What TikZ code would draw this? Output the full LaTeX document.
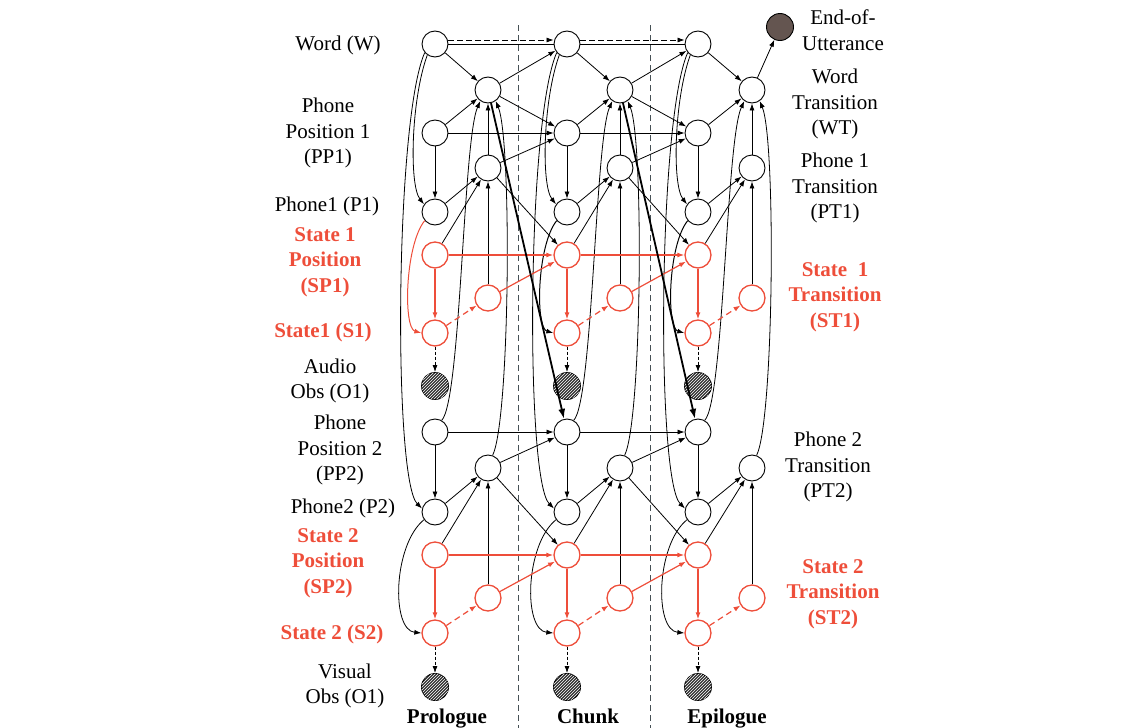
\documentclass[tikz,border=0pt]{standalone}
\usepackage{fontspec}
\setmainfont{Liberation Serif}
\usetikzlibrary{arrows.meta,patterns}
\definecolor{myred}{RGB}{238,78,58}
\definecolor{eoucol}{RGB}{100,85,80}
\definecolor{sepcol}{RGB}{70,80,85}
\begin{document}
\begin{tikzpicture}[x=1pt,y=-1pt,
 nd/.style={circle,draw=black,line width=0.9pt,minimum size=26pt,inner sep=0pt,fill=white},
 rnd/.style={nd,draw=myred,line width=1.3pt},
 obs/.style={circle,draw=black,line width=0.9pt,minimum size=27pt,inner sep=0pt,fill=black!80,postaction={pattern=north east lines,pattern color=white}},
 arr/.style={-{Latex[length=7pt,width=5pt]},line width=0.8pt},
 thk/.style={-{Latex[length=10pt,width=7pt]},line width=1.8pt},
 rarr/.style={arr,draw=myred,line width=1.2pt},
 rthk/.style={arr,draw=myred,line width=2pt},
 rdsh/.style={rarr,dash pattern=on 6pt off 4pt},
 dsh/.style={arr,dash pattern=on 3pt off 2pt},
 lbl/.style={font=\fontsize{21}{25.5}\selectfont,align=center,inner sep=0pt},
 rlbl/.style={font=\fontsize{21}{25.5}\selectfont\bfseries,align=center,inner sep=0pt,text=myred},
 blbl/.style={font=\fontsize{21}{25.5}\selectfont\bfseries,align=center,inner sep=0pt,anchor=base},
 sepline/.style={draw=sepcol,line width=0.9pt,dash pattern=on 6pt off 4pt}
]
\useasboundingbox (0,0) rectangle (1143,728);

% separators
\coordinate (s1t) at (518,25); \coordinate (s1b) at (518,728);
\coordinate (s2t) at (650,25); \coordinate (s2b) at (650,728);
\draw[sepline] (s1t) -- (s1b);
\draw[sepline] (s2t) -- (s2b);

% nodes
\foreach \cn/\mx/\tx in {A/435/488,B/567/620,C/698/752}{
 \node[nd] (W\cn) at (\mx,44) {};
 \node[nd] (PP1\cn) at (\mx,133) {};
 \node[nd] (P1\cn) at (\mx,212) {};
 \node[rnd] (SP1\cn) at (\mx,255) {};
 \node[rnd] (S1\cn) at (\mx,333) {};
 \node[obs] (O1\cn) at (\mx,386) {};
 \node[nd] (PP2\cn) at (\mx,432) {};
 \node[nd] (P2\cn) at (\mx,512) {};
 \node[rnd] (SP2\cn) at (\mx,555) {};
 \node[rnd] (S2\cn) at (\mx,633) {};
 \node[obs] (O2\cn) at (\mx,687) {};
 \node[nd] (WT\cn) at (\tx,90) {};
 \node[nd] (PT1\cn) at (\tx,168) {};
 \node[rnd] (ST1\cn) at (\tx,298) {};
 \node[nd] (PT2\cn) at (\tx,468) {};
 \node[rnd] (ST2\cn) at (\tx,598) {};
}
\node[circle,draw=black,line width=0.9pt,minimum size=27pt,inner sep=0pt,fill=eoucol] (EoU) at (780,27) {};

% within-frame edges
\foreach \cn/\mx/\tx/\pc in {A/435/488/myred,B/567/620/black,C/698/752/black}{
 \draw[arr] (W\cn) -- (WT\cn);
 \draw[arr] (PP1\cn) -- (WT\cn);
 \draw[arr] (PT1\cn) -- (WT\cn);
 \draw[arr] (PP2\cn.60) .. controls (\mx+26,400) and (\mx+28,140) .. (WT\cn.235);
 \draw[arr] (PT2\cn.70) .. controls (\tx+22,420) and (\tx+24,140) .. (WT\cn.-55);
 \draw[arr] (PP1\cn) -- (P1\cn);
 \draw[arr] (W\cn.235) .. controls (\mx-24,100) and (\mx-26,185) .. (P1\cn.145);
 \draw[arr] (W\cn.220) .. controls (\mx-40,120) and (\mx-42,480) .. (P2\cn.165);
 \draw[arr] (P1\cn) -- (PT1\cn);
 \draw[arr] (SP1\cn) -- (PT1\cn);
 \draw[arr] (ST1\cn) -- (PT1\cn);
 \draw[rarr] (SP1\cn) -- (S1\cn);
 \draw[arr,draw=\pc,line width=1pt] (P1\cn.220) .. controls (\mx-30,245) and (\mx-32,328) .. (S1\cn.180);
 \draw[rdsh] (S1\cn) -- (ST1\cn);
 \draw[dsh] (S1\cn) -- (O1\cn);
 \draw[arr] (PP2\cn) -- (P2\cn);
 \draw[arr] (P2\cn) -- (PT2\cn);
 \draw[arr] (SP2\cn) -- (PT2\cn);
 \draw[arr] (ST2\cn) -- (PT2\cn);
 \draw[rarr] (SP2\cn) -- (S2\cn);
 \draw[arr] (P2\cn.215) .. controls (\mx-42,545) and (\mx-44,630) .. (S2\cn.180);
 \draw[rdsh] (S2\cn) -- (ST2\cn);
 \draw[dsh] (S2\cn) -- (O2\cn);
}

% between-frame edges
\foreach \cn/\dn in {A/B,B/C}{
 \draw[line width=0.8pt] (W\cn.east) -- (W\dn.west);
 \draw[arr,dash pattern=on 6pt off 3pt] ([yshift=4pt]W\cn.east) -- ([yshift=4pt]W\dn.west);
 \draw[arr] (WT\cn) -- (W\dn);
 \draw[arr] (WT\cn) -- (PP1\dn);
 \draw[arr] (PP1\cn) -- (PP1\dn);
 \draw[arr] (PT1\cn) -- (PP1\dn);
 \draw[arr] (PT1\cn) -- (SP1\dn);
 \draw[rthk] (SP1\cn) -- (SP1\dn);
 \draw[rarr] (ST1\cn) -- (SP1\dn);
 \draw[thk] (WT\cn) -- (PP2\dn);
 \draw[arr] (PP2\cn) -- (PP2\dn);
 \draw[arr] (PT2\cn) -- (PP2\dn);
 \draw[arr] (PT2\cn) -- (SP2\dn);
 \draw[rthk] (SP2\cn) -- (SP2\dn);
 \draw[rarr] (ST2\cn) -- (SP2\dn);
}
\draw[arr] (WTC) -- (EoU);

% left labels
\node[lbl] (lW) at (338,45) {Word (W)};
\node[lbl] (lPP1) at (328,133) {Phone\\Position 1\\(PP1)};
\node[lbl] (lP1) at (327,206) {Phone1 (P1)};
\node[rlbl] (lSP1) at (325,262) {State 1\\Position\\(SP1)};
\node[rlbl] (lS1) at (323,332) {State1 (S1)};
\node[lbl] (lO1) at (330,381) {Audio\\Obs (O1)};
\node[lbl] (lPP2) at (340,450) {Phone\\Position 2\\(PP2)};
\node[lbl] (lP2) at (343,508) {Phone2 (P2)};
\node[rlbl] (lSP2) at (328,563) {State 2\\Position\\(SP2)};
\node[rlbl] (lS2) at (332,634) {State 2 (S2)};
\node[lbl] (lO2) at (345,686) {Visual\\Obs (O1)};
% bottom labels
\node[blbl] (lPro) at (447,723) {Prologue};
\node[blbl] (lChu) at (588,723) {Chunk};
\node[blbl] (lEpi) at (727,723) {Epilogue};
% right labels
\node[lbl] (lEoU) at (843,30) {End-of-\\Utterance};
\node[lbl] (lWT) at (835,104) {Word\\Transition\\(WT)};
\node[lbl] (lPT1) at (835,188) {Phone 1\\Transition\\(PT1)};
\node[rlbl] (lST1) at (835,297) {State~ 1\\Transition\\(ST1)};
\node[lbl] (lPT2) at (828,467) {Phone 2\\Transition\\(PT2)};
\node[rlbl] (lST2) at (833,594) {State 2\\Transition\\(ST2)};
\end{tikzpicture}
\end{document}
